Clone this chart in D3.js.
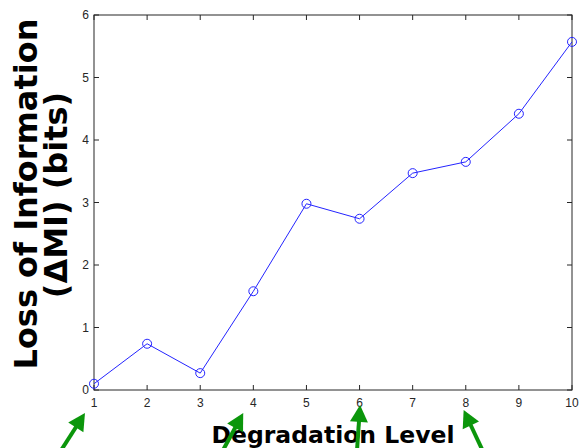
<!DOCTYPE html>
<html>
<head>
<meta charset="utf-8">
<script src="https://cdn.jsdelivr.net/npm/d3@7"></script>
<style>
  body { margin: 0; background: #fff; }
  svg { display: block; }
</style>
</head>
<body>
<div id="chart"></div>
<script>
// degradation levels and information loss
const levels = [1, 2, 3, 4, 5, 6, 7, 8, 9, 10];
const lossBits = [0.10, 0.74, 0.27, 1.58, 2.98, 2.74, 3.47, 3.65, 4.42, 5.57];
const yTicks = [0, 1, 2, 3, 4, 5, 6];
// green annotation arrows, in level units: tail (at page bottom) -> tip
const arrowTail = [0.36, 3.41, 5.95, 8.33];
const arrowTip = [0.83, 3.81, 6.01, 7.96];
const arrowTipY = [413, 413, 405, 410];

const W = 579, H = 448;
const margin = { top: 15, right: 7, bottom: 58, left: 94 };

const svg = d3.select("#chart").append("svg")
  .attr("width", W).attr("height", H);

const x = d3.scaleLinear().domain([1, 10]).range([margin.left, W - margin.right]);
const y = d3.scaleLinear().domain([0, 6]).range([H - margin.bottom, margin.top]);

const axisColor = "#262626";
const tickFont = "Liberation Sans, Arial, sans-serif";

// frame
svg.append("rect")
  .attr("x", x(1)).attr("y", y(6))
  .attr("width", x(10) - x(1)).attr("height", y(0) - y(6))
  .attr("fill", "none").attr("stroke", axisColor).attr("stroke-width", 1);

// ticks on all four sides (inside)
const tl = 5;
svg.append("g").selectAll("line").data(levels).join("line")
  .attr("x1", d => x(d)).attr("x2", d => x(d))
  .attr("y1", y(0)).attr("y2", y(0) - tl)
  .attr("stroke", axisColor);
svg.append("g").selectAll("line").data(levels).join("line")
  .attr("x1", d => x(d)).attr("x2", d => x(d))
  .attr("y1", y(6)).attr("y2", y(6) + tl)
  .attr("stroke", axisColor);
svg.append("g").selectAll("line").data(yTicks).join("line")
  .attr("x1", x(1)).attr("x2", x(1) + tl)
  .attr("y1", d => y(d)).attr("y2", d => y(d))
  .attr("stroke", axisColor);
svg.append("g").selectAll("line").data(yTicks).join("line")
  .attr("x1", x(10)).attr("x2", x(10) - tl)
  .attr("y1", d => y(d)).attr("y2", d => y(d))
  .attr("stroke", axisColor);

// tick labels
svg.append("g").selectAll("text").data(levels).join("text")
  .attr("x", d => x(d)).attr("y", y(0) + 17)
  .attr("text-anchor", "middle")
  .style("font-family", tickFont).style("font-size", "12px").attr("fill", axisColor)
  .text(d => d);
svg.append("g").selectAll("text").data(yTicks).join("text")
  .attr("x", x(1) - 5).attr("y", d => y(d) + 4)
  .attr("text-anchor", "end")
  .style("font-family", tickFont).style("font-size", "12px").attr("fill", axisColor)
  .text(d => d);

// line + markers
const line = d3.line().x((d, i) => x(levels[i])).y(d => y(d));
svg.append("path")
  .attr("d", line(lossBits))
  .attr("fill", "none").attr("stroke", "#2424ff").attr("stroke-width", 1);
svg.append("g").selectAll("circle").data(lossBits).join("circle")
  .attr("cx", (d, i) => x(levels[i])).attr("cy", d => y(d)).attr("r", 4.5)
  .attr("fill", "none").attr("stroke", "#2424ff").attr("stroke-width", 1);

// axis titles
const titleFont = "DejaVu Sans, sans-serif";
svg.append("text")
  .attr("transform", "translate(37,194) rotate(-90)")
  .attr("text-anchor", "middle")
  .style("font-family", titleFont).style("font-weight", "bold").style("font-size", "32px")
  .attr("fill", "#000")
  .text("Loss of Information");
svg.append("text")
  .attr("transform", "translate(67,195) rotate(-90)")
  .attr("text-anchor", "middle")
  .style("font-family", titleFont).style("font-weight", "bold").style("font-size", "32px")
  .attr("fill", "#000")
  .text("(ΔMI) (bits)");

svg.append("text")
  .attr("x", 333).attr("y", 443)
  .attr("text-anchor", "middle")
  .style("font-family", titleFont).style("font-weight", "bold").style("font-size", "23.5px")
  .attr("fill", "#000")
  .text("Degradation Level");

// green arrows, drawn over the title
const green = "#0b960b";
const headLen = 17, headHalf = 9;
const arrows = svg.append("g");
arrowTip.forEach((t, i) => {
  const x0 = x(arrowTail[i]), y0 = H + 4;
  const x1 = x(t), y1 = arrowTipY[i];
  const len = Math.hypot(x1 - x0, y1 - y0);
  const ux = (x1 - x0) / len, uy = (y1 - y0) / len;
  const bx = x1 - ux * headLen, by = y1 - uy * headLen;
  arrows.append("line")
    .attr("x1", x0).attr("y1", y0).attr("x2", bx + ux).attr("y2", by + uy)
    .attr("stroke", green).attr("stroke-width", 4);
  arrows.append("path")
    .attr("d", d3.line()([
      [x1, y1],
      [bx - uy * headHalf, by + ux * headHalf],
      [bx + uy * headHalf, by - ux * headHalf]
    ]) + "Z")
    .attr("fill", green);
});
</script>
</body>
</html>
